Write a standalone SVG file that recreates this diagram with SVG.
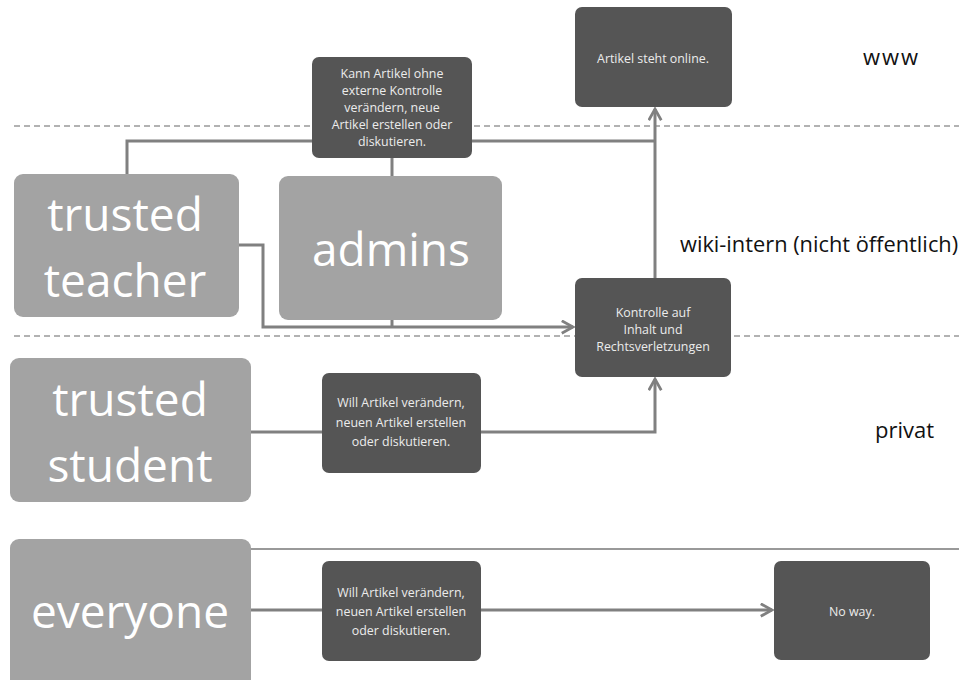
<svg xmlns="http://www.w3.org/2000/svg" width="959" height="680" viewBox="0 0 959 680">
<defs>
<style>
.dark{fill:#555555}
.light{fill:#a3a3a3}
.small{font-family:"Open Sans","Liberation Sans",sans-serif;font-size:12.4px;fill:#ececec;text-anchor:middle}
.big{font-family:"Open Sans","Liberation Sans",sans-serif;font-size:46px;fill:#ffffff;text-anchor:middle}
.lbl{font-family:"Open Sans","Liberation Sans",sans-serif;fill:#111111}
.conn{fill:none;stroke:#808080;stroke-width:3}
.dash{stroke:#999999;stroke-width:1.5;stroke-dasharray:6 4}
</style>
<marker id="arr" viewBox="0 0 12 12" refX="10" refY="6" markerWidth="5" markerHeight="5" orient="auto" markerUnits="strokeWidth">
<path d="M1,1 L10,6 L1,11" fill="none" stroke="#808080" stroke-width="2.2"/>
</marker>
</defs>
<rect width="959" height="680" fill="#ffffff"/>
<g id="separators">
<line class="dash" x1="14" y1="126" x2="959" y2="126"/>
<line class="dash" x1="14" y1="336" x2="959" y2="336"/>
<line x1="10" y1="549" x2="959" y2="549" stroke="#999999" stroke-width="2"/>
</g>
<g id="connectors">
<path class="conn" d="M127,174 V141 H312"/>
<path class="conn" d="M472,141 H655"/>
<path class="conn" d="M655,278 V109" marker-end="url(#arr)"/>
<path class="conn" d="M392,158 V176"/>
<path class="conn" d="M239,245 H263 V327 H573" marker-end="url(#arr)"/>
<path class="conn" d="M392,320 V327"/>
<path class="conn" d="M251,432 H322"/>
<path class="conn" d="M481,432 H655 V379" marker-end="url(#arr)"/>
<path class="conn" d="M251,610 H322"/>
<path class="conn" d="M481,610 H772" marker-end="url(#arr)"/>
</g>
<g id="online">
<rect class="dark" x="575" y="7" width="157" height="100" rx="7"/>
<text class="small" x="653" y="63">Artikel steht online.</text>
</g>
<g id="kann">
<rect class="dark" x="312" y="57" width="160" height="101" rx="7"/>
<text class="small" x="392" y="78">Kann Artikel ohne</text>
<text class="small" x="392" y="95">externe Kontrolle</text>
<text class="small" x="392" y="112">verändern, neue</text>
<text class="small" x="392" y="129">Artikel erstellen oder</text>
<text class="small" x="392" y="146">diskutieren.</text>
</g>
<g id="trusted-teacher">
<rect class="light" x="14" y="174" width="225" height="143" rx="9"/>
<text class="big" x="125" y="231">trusted</text>
<text class="big" x="125" y="297">teacher</text>
</g>
<g id="admins">
<rect class="light" x="279" y="176" width="223" height="144" rx="9"/>
<text class="big" x="391" y="266">admins</text>
</g>
<g id="kontrolle">
<rect class="dark" x="575" y="278" width="156" height="99" rx="7"/>
<text class="small" x="653" y="317">Kontrolle auf</text>
<text class="small" x="653" y="334">Inhalt und</text>
<text class="small" x="653" y="351">Rechtsverletzungen</text>
</g>
<g id="trusted-student">
<rect class="light" x="10" y="358" width="241" height="144" rx="9"/>
<text class="big" x="130" y="416">trusted</text>
<text class="big" x="130" y="482">student</text>
</g>
<g id="will1">
<rect class="dark" x="322" y="373" width="159" height="100" rx="7"/>
<text class="small" x="401" y="407">Will Artikel verändern,</text>
<text class="small" x="401" y="427">neuen Artikel erstellen</text>
<text class="small" x="401" y="446">oder diskutieren.</text>
</g>
<g id="everyone">
<rect class="light" x="10" y="539" width="241" height="150" rx="9"/>
<text class="big" x="130" y="628">everyone</text>
</g>
<g id="will2">
<rect class="dark" x="322" y="561" width="159" height="100" rx="7"/>
<text class="small" x="401" y="597">Will Artikel verändern,</text>
<text class="small" x="401" y="616">neuen Artikel erstellen</text>
<text class="small" x="401" y="635">oder diskutieren.</text>
</g>
<g id="noway">
<rect class="dark" x="774" y="561" width="156" height="99" rx="7"/>
<text class="small" x="852" y="616">No way.</text>
</g>
<g id="labels">
<text class="lbl" x="863" y="65" font-size="22" letter-spacing="2">www</text>
<text class="lbl" x="680" y="252" font-size="21.8">wiki-intern (nicht öffentlich)</text>
<text class="lbl" x="875" y="438" font-size="22">privat</text>
</g>
</svg>
